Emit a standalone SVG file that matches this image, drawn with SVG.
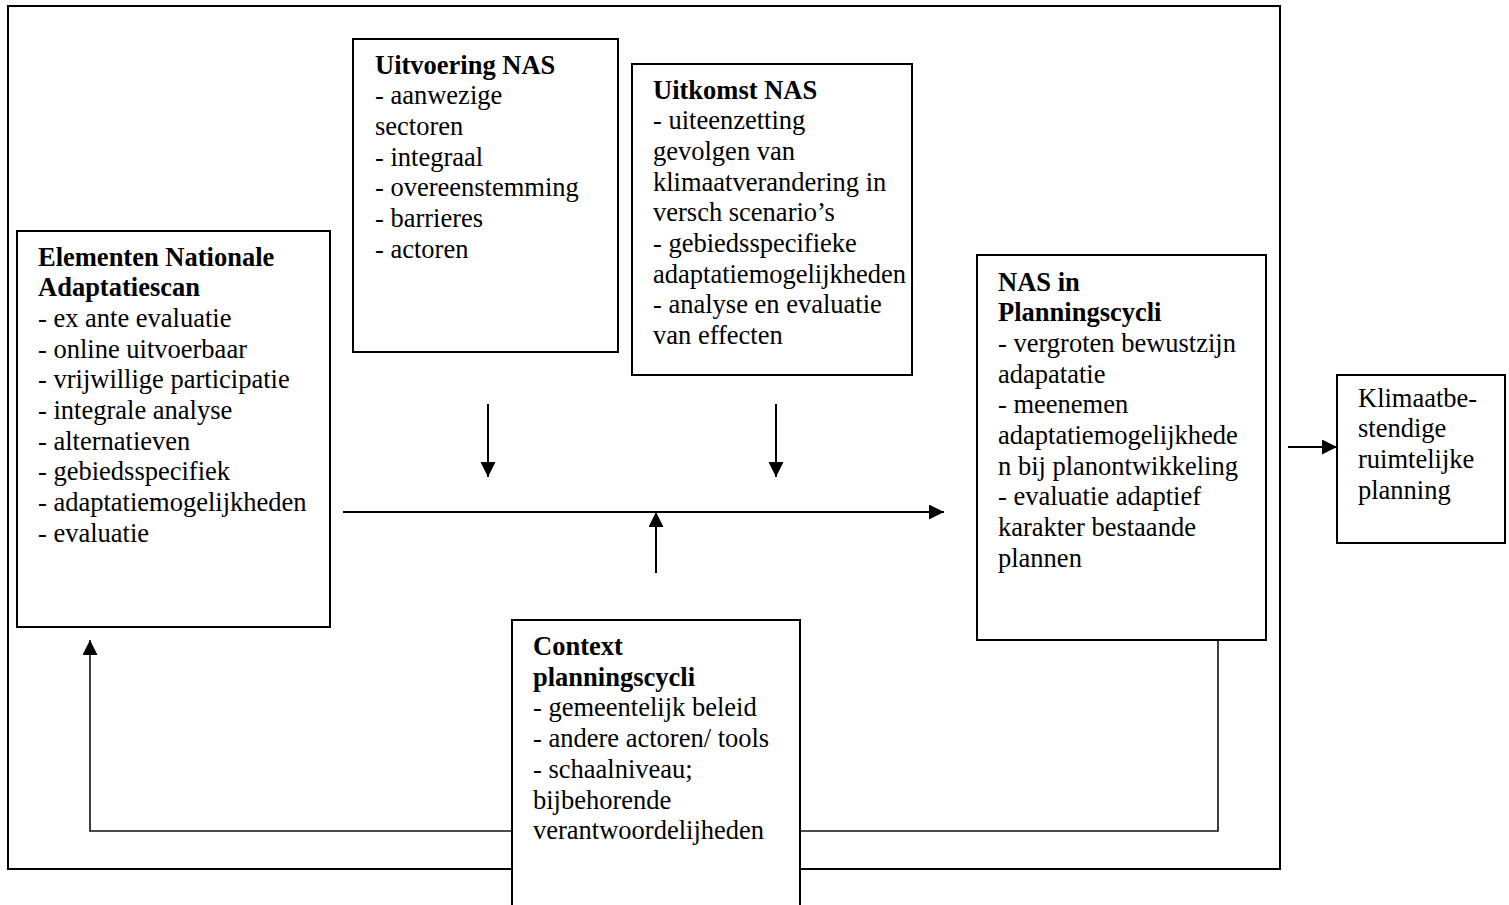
<svg xmlns="http://www.w3.org/2000/svg" width="1509" height="905" viewBox="0 0 1509 905">
<defs>
<style>
.box{fill:#fff;stroke:#000;stroke-width:2}
.frame{fill:none;stroke:#000;stroke-width:2}
.t{font-family:"Liberation Serif","Times New Roman",serif;font-size:26.5px;fill:#000}
.b{font-weight:bold}
.c{fill:none;stroke:#000;stroke-width:2}
.fb{fill:none;stroke:#111;stroke-width:1.6}
</style>
<marker id="ah" markerUnits="userSpaceOnUse" markerWidth="16" markerHeight="16" viewBox="0 0 16 16" refX="15" refY="7.5" orient="auto">
<path d="M0,0 L15,7.5 L0,15 Z" fill="#000"/>
</marker>
</defs>
<rect width="1509" height="905" fill="#fff"/>
<rect id="frame" class="frame" x="8" y="6" width="1272" height="863"/>
<g id="connectors">
<line class="c" x1="343" y1="512" x2="944" y2="512" marker-end="url(#ah)"/>
<line class="c" x1="488" y1="404" x2="488" y2="477" marker-end="url(#ah)"/>
<line class="c" x1="776" y1="404" x2="776" y2="477" marker-end="url(#ah)"/>
<line class="c" x1="656" y1="573" x2="656" y2="512" marker-end="url(#ah)"/>
<line class="c" x1="1288" y1="447" x2="1337" y2="447" marker-end="url(#ah)"/>
<polyline class="fb" points="1218,640 1218,831 90,831 90,640" marker-end="url(#ah)"/>
</g>
<g id="elementen">
<rect class="box" x="17" y="231" width="313" height="396"/>
<text class="t" x="38" y="265.5"><tspan class="b" x="38">Elementen Nationale</tspan><tspan class="b" x="38" dy="30.7">Adaptatiescan</tspan><tspan x="38" dy="30.7">- ex ante evaluatie</tspan><tspan x="38" dy="30.7">- online uitvoerbaar</tspan><tspan x="38" dy="30.7">- vrijwillige participatie</tspan><tspan x="38" dy="30.7">- integrale analyse</tspan><tspan x="38" dy="30.7">- alternatieven</tspan><tspan x="38" dy="30.7">- gebiedsspecifiek</tspan><tspan x="38" dy="30.7">- adaptatiemogelijkheden</tspan><tspan x="38" dy="30.7">- evaluatie</tspan></text>
</g>
<g id="uitvoering">
<rect class="box" x="353" y="39" width="265" height="313"/>
<text class="t" x="375" y="73.5"><tspan class="b" x="375">Uitvoering NAS</tspan><tspan x="375" dy="30.7">- aanwezige</tspan><tspan x="375" dy="30.7">sectoren</tspan><tspan x="375" dy="30.7">- integraal</tspan><tspan x="375" dy="30.7">- overeenstemming</tspan><tspan x="375" dy="30.7">- barrieres</tspan><tspan x="375" dy="30.7">- actoren</tspan></text>
</g>
<g id="uitkomst">
<rect class="box" x="632" y="64" width="280" height="311"/>
<text class="t" x="653" y="98.5"><tspan class="b" x="653">Uitkomst NAS</tspan><tspan x="653" dy="30.7">- uiteenzetting</tspan><tspan x="653" dy="30.7">gevolgen van</tspan><tspan x="653" dy="30.7">klimaatverandering in</tspan><tspan x="653" dy="30.7">versch scenario’s</tspan><tspan x="653" dy="30.7">- gebiedsspecifieke</tspan><tspan x="653" dy="30.7">adaptatiemogelijkheden</tspan><tspan x="653" dy="30.7">- analyse en evaluatie</tspan><tspan x="653" dy="30.7">van effecten</tspan></text>
</g>
<g id="nas-planningscycli">
<rect class="box" x="977" y="255" width="289" height="385"/>
<text class="t" x="998" y="290.5"><tspan class="b" x="998">NAS in</tspan><tspan class="b" x="998" dy="30.7">Planningscycli</tspan><tspan x="998" dy="30.7">- vergroten bewustzijn</tspan><tspan x="998" dy="30.7">adapatatie</tspan><tspan x="998" dy="30.7">- meenemen</tspan><tspan x="998" dy="30.7">adaptatiemogelijkhede</tspan><tspan x="998" dy="30.7">n bij planontwikkeling</tspan><tspan x="998" dy="30.7">- evaluatie adaptief</tspan><tspan x="998" dy="30.7">karakter bestaande</tspan><tspan x="998" dy="30.7">plannen</tspan></text>
</g>
<g id="klimaat">
<rect class="box" x="1337" y="375" width="168" height="168"/>
<text class="t" x="1358" y="406.5"><tspan x="1358">Klimaatbe-</tspan><tspan x="1358" dy="30.7">stendige</tspan><tspan x="1358" dy="30.7">ruimtelijke</tspan><tspan x="1358" dy="30.7">planning</tspan></text>
</g>
<g id="context">
<rect class="box" x="512" y="620" width="288" height="300"/>
<text class="t" x="533" y="655"><tspan class="b" x="533">Context</tspan><tspan class="b" x="533" dy="30.7">planningscycli</tspan><tspan x="533" dy="30.7">- gemeentelijk beleid</tspan><tspan x="533" dy="30.7">- andere actoren/ tools</tspan><tspan x="533" dy="30.7">- schaalniveau;</tspan><tspan x="533" dy="30.7">bijbehorende</tspan><tspan x="533" dy="30.7">verantwoordelijheden</tspan></text>
</g>
</svg>
